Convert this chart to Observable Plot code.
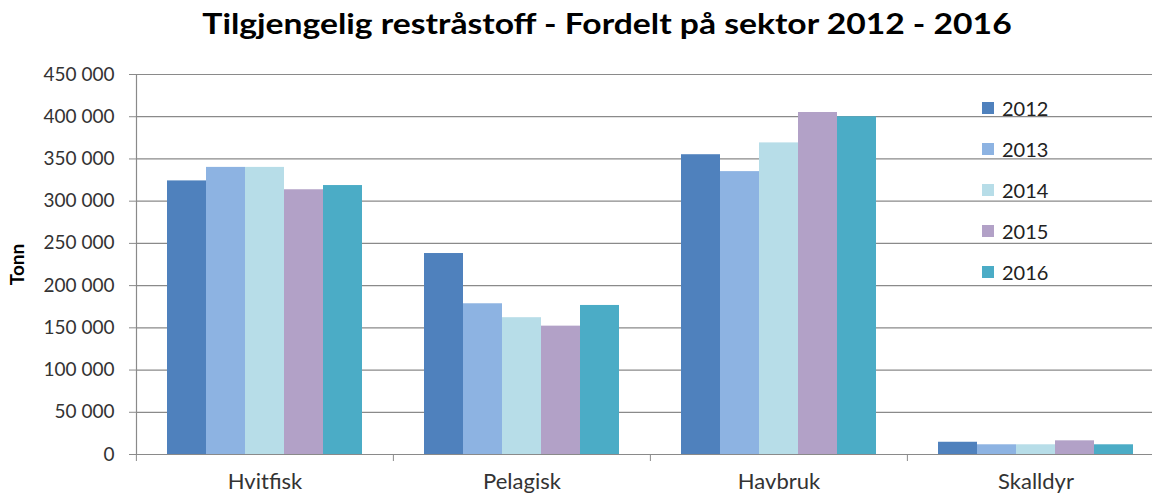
<!DOCTYPE html>
<html>
<head>
<meta charset="utf-8">
<script src="https://cdn.jsdelivr.net/npm/d3@7"></script>
<script src="https://cdn.jsdelivr.net/npm/@observablehq/plot@0.6"></script>
<style>
  body { margin: 0; background: #fff; font-family: Lato, "Noto Sans", sans-serif; }
  #wrap { position: relative; width: 1152px; height: 493px; overflow: hidden; background: #fff; }
  #title { position: relative; height: 60px; }
  #title span { position: absolute; left: 607px; top: 8px; transform: translateX(-50%) scaleX(1.16); white-space: nowrap;
    font-weight: bold; font-size: 29px; line-height: 29px; color: #000; }
  #chart { width: 1152px; height: 433px; overflow: hidden; }
  #chart svg [aria-label="y-axis label"] text { font-weight: bold; fill: #000; }
  #legend { position: absolute; left: 982px; top: 87px; }
  .row { display: flex; align-items: center; height: 41px; }
  .sw { width: 12px; height: 12px; margin-right: 8px; }
  .lt { font-size: 20px; color: #222; }
</style>
</head>
<body>
<div id="wrap">
  <div id="title"><span>Tilgjengelig restråstoff - Fordelt på sektor 2012 - 2016</span></div>
  <div id="chart"></div>
  <div id="legend"></div>
</div>
<script>
const sectors = ["Hvitfisk", "Pelagisk", "Havbruk", "Skalldyr"];
const years = ["2012", "2013", "2014", "2015", "2016"];
const values2012 = [324000, 238000, 355000, 14500];
const values2013 = [340000, 178500, 335000, 11500];
const values2014 = [340000, 162000, 369000, 11500];
const values2015 = [313500, 152000, 405000, 16200];
const values2016 = [318500, 176500, 400000, 11500];
const yearColors = ["#4F81BD", "#8DB3E2", "#B7DDE8", "#B2A1C7", "#4BACC6"];
const yTicks = [0, 50000, 100000, 150000, 200000, 250000, 300000, 350000, 400000, 450000];
const yLabel = "Tonn";

const series = [values2012, values2013, values2014, values2015, values2016];
const data = sectors.flatMap((s, i) => years.map((y, j) => ({sector: s, year: y, value: series[j][i]})));

const fmt = d3.formatLocale({decimal: ",", thousands: "\u00a0", grouping: [3], currency: ["", ""]}).format(",d");

const W = 1152, H = 433, mL = 135, mR = -12, mT = 14, mB = 39;
const fxStep = (W - mR - mL) / sectors.length;
const gray = "#8a8a8a";

const chart = Plot.plot({
  width: W, height: H,
  marginLeft: mL, marginRight: mR, marginTop: mT, marginBottom: mB,
  style: {fontFamily: "Lato, 'Noto Sans', sans-serif", color: "#333", background: "#fff"},
  fx: {domain: sectors, padding: 0, axis: null, label: null},
  x: {domain: years, paddingInner: 0, paddingOuter: 0.75, axis: null},
  y: {domain: [0, 450000], axis: null},
  color: {domain: years, range: yearColors},
  marks: [
    Plot.gridY(yTicks, {stroke: gray, strokeOpacity: 1, strokeWidth: 1.2}),
    Plot.barY(data, {fx: "sector", x: "year", y: "value", fill: "year"}),
    Plot.ruleY([0], {stroke: gray, strokeWidth: 1.2}),
    Plot.axisY(yTicks, {anchor: "left", tickSize: 7, tickPadding: 15, tickFormat: fmt, fontSize: 19,
      stroke: gray, label: yLabel, labelAnchor: "center", labelOffset: 126, labelArrow: "none"}),
    Plot.frame({anchor: "left", facetAnchor: "left", stroke: gray, strokeWidth: 1.2}),
    Plot.axisFx({anchor: "bottom", tickSize: 7, tickFormat: () => "", dx: -fxStep / 2, stroke: gray, label: null}),
    Plot.axisFx({anchor: "bottom", tickSize: 0, tickPadding: 19, fontSize: 22, label: null})
  ]
});
document.getElementById("chart").appendChild(chart);

const legend = d3.select("#legend");
years.forEach((y, j) => {
  const row = legend.append("div").attr("class", "row");
  row.append("div").attr("class", "sw").style("background", yearColors[j]);
  row.append("div").attr("class", "lt").text(y);
});
</script>
</body>
</html>
